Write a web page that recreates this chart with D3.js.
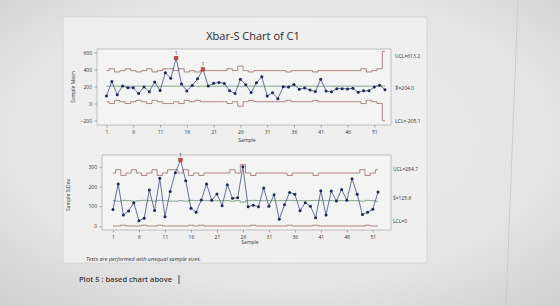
<!DOCTYPE html>
<html>
<head>
<meta charset="utf-8">
<script src="https://d3js.org/d3.v7.min.js"></script>
<style>
  html, body { margin: 0; padding: 0; background: #e4e4e4; }
  svg { display: block; }
</style>
</head>
<body>
<svg id="chart" width="560" height="306"></svg>
<script>
// ---- data ----
const xbarValues = [87, 258, 104, 207, 184, 185, 117, 195, 139, 254,
  152, 363, 296, 535, 230, 148, 211, 290, 402, 205,
  237, 247, 236, 149, 118, 284, 222, 128, 244, 316,
  87, 127, 57, 197, 195, 224, 168, 182, 160, 140,
  286, 146, 139, 175, 175, 172, 178, 131, 150, 149,
  195, 216, 163];

const xbarUCL = [387, 408.6, 371, 387, 408.6, 387, 371, 387, 408.6, 371,
  387, 408.6, 408.6, 387, 408.6, 371, 387, 371, 387, 387,
  387, 387, 387, 408.6, 387, 440.3, 387, 371, 387, 387,
  387, 387, 387, 387, 371, 387, 387, 387, 387, 371,
  387, 387, 387, 387, 387, 387, 387, 387, 408.6, 371,
  387, 408.6, 613.2];

const xbarLCL = [21, -0.6, 37, 21, -0.6, 21, 37, 21, -0.6, 37,
  21, -0.6, -0.6, 21, -0.6, 37, 21, 37, 21, 21,
  21, 21, 21, -0.6, 21, -32.3, 21, 37, 21, 21,
  21, 21, 21, 21, 37, 21, 21, 21, 21, 37,
  21, 21, 21, 21, 21, 21, 21, 21, -0.6, 37,
  21, -0.6, -205.1];

const xbarCenter = 204.0;

const stdevValues = [84, 213, 56, 76, 118, 27, 39, 182, 78, 241,
  47, 175, 270, 334, 229, 90, 70, 132, 213, 130,
  162, 103, 209, 140, 143, 300, 98, 105, 98, 192,
  100, 158, 34, 107, 170, 160, 77, 118, 100, 42,
  178, 56, 177, 126, 185, 130, 239, 160, 58, 70,
  85, 172];

const stdevUCL = [268, 284.7, 255.6, 268, 284.7, 268, 255.6, 268, 284.7, 255.6,
  268, 284.7, 284.7, 268, 284.7, 255.6, 268, 255.6, 268, 268,
  268, 268, 268, 284.7, 268, 310.4, 268, 255.6, 268, 268,
  268, 268, 268, 268, 255.6, 268, 268, 268, 268, 255.6,
  268, 268, 268, 268, 268, 268, 268, 268, 284.7, 255.6,
  268, 284.7];

const stdevCenter = [128.2, 125.6, 129.7, 128.2, 125.6, 128.2, 129.7, 128.2, 125.6, 129.7,
  128.2, 125.6, 125.6, 128.2, 125.6, 129.7, 128.2, 129.7, 128.2, 128.2,
  128.2, 128.2, 128.2, 125.6, 128.2, 120.8, 128.2, 129.7, 128.2, 128.2,
  128.2, 128.2, 128.2, 128.2, 129.7, 128.2, 128.2, 128.2, 128.2, 129.7,
  128.2, 128.2, 128.2, 128.2, 128.2, 128.2, 128.2, 128.2, 125.6, 129.7,
  128.2, 125.6];

const stdevLCL = [0, 0, 4, 0, 0, 0, 4, 0, 0, 4,
  0, 0, 0, 0, 0, 4, 0, 4, 0, 0,
  0, 0, 0, 0, 0, 0, 0, 4, 0, 0,
  0, 0, 0, 0, 4, 0, 0, 0, 0, 4,
  0, 0, 0, 0, 0, 0, 0, 0, 0, 4,
  0, 0];

const sampleTicks = [1, 6, 11, 16, 21, 26, 31, 36, 41, 46, 51];
const meanTicks = [-200, 0, 200, 400, 600];
const stdevTicks = [0, 100, 200, 300];

const meanLabels = ["UCL=613.2", "X\u033F=204.0", "LCL=-205.1"];
const stdevLabels = ["UCL=284.7", "S\u0304=125.6", "LCL=0"];

// ---- drawing ----
const svg = d3.select("#chart");
const font = "'Open Sans', 'DejaVu Sans', sans-serif";

// photo-like background
const defs = svg.append("defs");
const grad = defs.append("radialGradient")
    .attr("id", "bg")
    .attr("cx", "50%").attr("cy", "45%").attr("r", "75%");
grad.append("stop").attr("offset", "0%").attr("stop-color", "#eeeeee");
grad.append("stop").attr("offset", "65%").attr("stop-color", "#e4e4e4");
grad.append("stop").attr("offset", "100%").attr("stop-color", "#cfcfcf");

svg.append("rect")
    .attr("width", 560).attr("height", 306)
    .attr("fill", "url(#bg)");

// screen edge line on the right
svg.append("line")
    .attr("x1", 518).attr("y1", 0).attr("x2", 506).attr("y2", 306)
    .attr("stroke", "#cbcbcb").attr("stroke-width", 1);

// graph window
svg.append("rect")
    .attr("x", 63).attr("y", 17)
    .attr("width", 364).attr("height", 246)
    .attr("fill", "#efefef")
    .attr("stroke", "#d3d3d3").attr("stroke-width", 0.8);

svg.append("text")
    .attr("x", 253).attr("y", 40)
    .attr("text-anchor", "middle")
    .attr("font-family", font)
    .attr("font-size", "11px")
    .attr("fill", "#2a2a2a")
    .text("Xbar-S Chart of C1");

function drawPanel(cfg) {
  const g = svg.append("g");
  const x = d3.scaleLinear().domain(cfg.xDomain).range(cfg.xRange);
  const y = d3.scaleLinear().domain(cfg.yDomain).range(cfg.yRange);

  g.append("rect")
      .attr("x", cfg.frame[0]).attr("y", cfg.frame[1])
      .attr("width", cfg.frame[2] - cfg.frame[0])
      .attr("height", cfg.frame[3] - cfg.frame[1])
      .attr("fill", "#f4f4f4")
      .attr("stroke", "#a9a9a9").attr("stroke-width", 0.7);

  // axes
  const yAxis = g.append("g")
      .attr("transform", "translate(" + cfg.frame[0] + ",0)")
      .call(d3.axisLeft(y).tickValues(cfg.yTicks).tickSize(2.5).tickPadding(2.5));
  const xAxis = g.append("g")
      .attr("transform", "translate(0," + cfg.frame[3] + ")")
      .call(d3.axisBottom(x).tickValues(sampleTicks).tickSize(2.5).tickPadding(2.5));
  [yAxis, xAxis].forEach(a => {
    a.select(".domain").remove();
    a.selectAll("line").attr("stroke", "#777").attr("stroke-width", 0.6);
    a.selectAll("text")
        .attr("font-family", font)
        .attr("font-size", "5px")
        .attr("fill", "#333");
  });

  g.append("text")
      .attr("transform", "translate(" + cfg.yTitlePos[0] + "," + cfg.yTitlePos[1] + ") rotate(-90)")
      .attr("text-anchor", "middle")
      .attr("font-family", font).attr("font-size", "5px").attr("fill", "#333")
      .text(cfg.yTitle);
  g.append("text")
      .attr("x", cfg.xTitlePos[0]).attr("y", cfg.xTitlePos[1])
      .attr("text-anchor", "middle")
      .attr("font-family", font).attr("font-size", "5px").attr("fill", "#333")
      .text("Sample");

  // step lines for limits
  const stepLine = d3.line()
      .x(d => x(d[0])).y(d => y(d[1]))
      .curve(d3.curveStepAfter);
  function stepPoints(vals) {
    const pts = [[1, vals[0]]];
    for (let i = 1; i < vals.length; i++) pts.push([i + 0.5, vals[i]]);
    pts.push([vals.length, vals[vals.length - 1]]);
    return pts;
  }

  [cfg.ucl, cfg.lcl].forEach(vals => {
    g.append("path")
        .attr("d", stepLine(stepPoints(vals)))
        .attr("fill", "none")
        .attr("stroke", "#a06868").attr("stroke-width", 0.8);
  });
  g.append("path")
      .attr("d", stepLine(stepPoints(cfg.center)))
      .attr("fill", "none")
      .attr("stroke", "#6a8f72").attr("stroke-width", 0.8);

  // data
  const pts = cfg.values.map((v, i) => ({ s: i + 1, v: v, out: v > cfg.ucl[i] || v < cfg.lcl[i] }));
  g.append("path")
      .attr("d", d3.line().x(d => x(d.s)).y(d => y(d.v))(pts))
      .attr("fill", "none")
      .attr("stroke", "#4c5a86").attr("stroke-width", 0.85);

  g.selectAll(".pt")
      .data(pts.filter(d => !d.out))
      .enter().append("circle")
      .attr("cx", d => x(d.s)).attr("cy", d => y(d.v))
      .attr("r", 1.5)
      .attr("fill", "#1c275c");

  const outs = pts.filter(d => d.out);
  g.selectAll(".out")
      .data(outs)
      .enter().append("rect")
      .attr("x", d => x(d.s) - 1.8).attr("y", d => y(d.v) - 1.8)
      .attr("width", 3.6).attr("height", 3.6)
      .attr("fill", "#df3c3c")
      .attr("stroke", "#8a2a2a").attr("stroke-width", 0.4);
  g.selectAll(".flag")
      .data(outs)
      .enter().append("text")
      .attr("x", d => x(d.s)).attr("y", d => y(d.v) - 3)
      .attr("text-anchor", "middle")
      .attr("font-family", font).attr("font-size", "5px").attr("fill", "#333")
      .text("1");

  // limit labels on the right
  cfg.labels.forEach((t, i) => {
    g.append("text")
        .attr("x", cfg.labelX).attr("y", cfg.labelY[i])
        .attr("dy", "0.35em")
        .attr("font-family", font).attr("font-size", "5px").attr("fill", "#333")
        .text(t);
  });
}

drawPanel({
  frame: [97, 49, 391, 125],
  xDomain: [1, 53], xRange: [106.5, 385],
  yDomain: [-200, 600], yRange: [120.5, 52.5],
  yTicks: meanTicks,
  yTitle: "Sample Mean", yTitlePos: [75, 87],
  xTitlePos: [247, 142],
  values: xbarValues,
  ucl: xbarUCL, lcl: xbarLCL,
  center: xbarValues.map(() => xbarCenter),
  labels: meanLabels,
  labelX: 395, labelY: [56, 88, 121]
});

drawPanel({
  frame: [102, 155, 391, 230],
  xDomain: [1, 52], xRange: [113, 378],
  yDomain: [0, 300], yRange: [226, 166.7],
  yTicks: stdevTicks,
  yTitle: "Sample StDev", yTitlePos: [70, 195],
  xTitlePos: [250, 244],
  values: stdevValues,
  ucl: stdevUCL, lcl: stdevLCL,
  center: stdevCenter,
  labels: stdevLabels,
  labelX: 393, labelY: [169, 198, 221]
});

// footnote inside the graph window
svg.append("text")
    .attr("x", 86).attr("y", 261)
    .attr("font-family", font).attr("font-size", "5.5px")
    .attr("font-style", "italic").attr("fill", "#333")
    .text("Tests are performed with unequal sample sizes.");

// text typed below the graph
svg.append("text")
    .attr("x", 79).attr("y", 282)
    .attr("font-family", font).attr("font-size", "7.5px")
    .attr("font-weight", "600")
    .attr("fill", "#3a3a3a")
    .text("Plot 5 : based chart above");
svg.append("line")
    .attr("x1", 179).attr("y1", 275).attr("x2", 179).attr("y2", 284)
    .attr("stroke", "#222").attr("stroke-width", 0.8);
</script>
</body>
</html>
